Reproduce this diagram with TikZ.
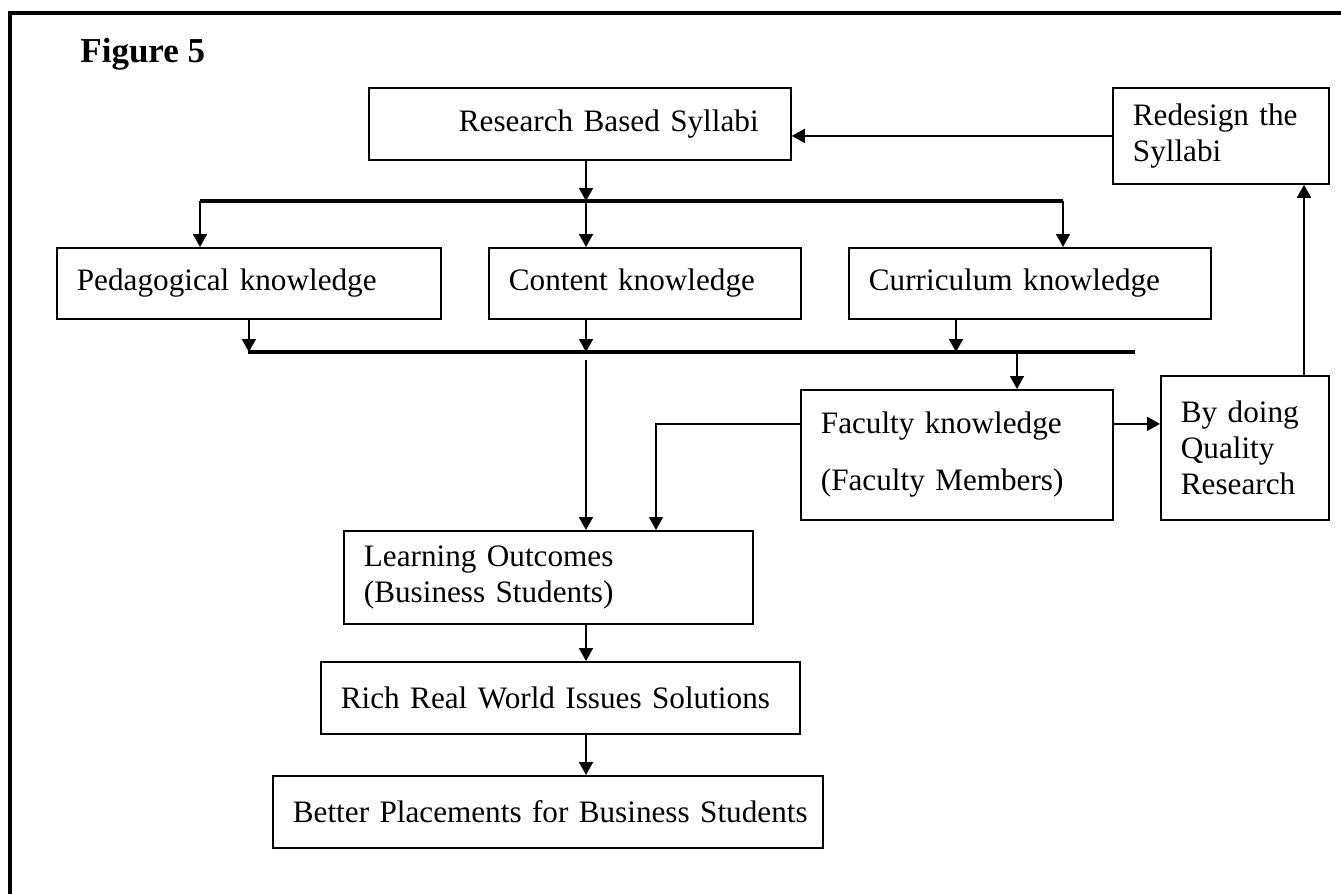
\documentclass[tikz,border=0pt]{standalone}
\usepackage{fontspec}
\setmainfont{Liberation Serif}
\usetikzlibrary{arrows.meta}

\begin{document}
\begin{tikzpicture}[x=0.5pt,y=-0.5pt]
\tikzset{boite/.style={draw, line width=0.9pt, anchor=north west, align=left, inner xsep=10pt, inner ysep=0pt, font=\fontsize{15.6}{18}\selectfont}}
\tikzset{fleche/.style={line width=0.9pt, -{Triangle[length=6.5pt, width=7pt]}}}
\tikzset{barre/.style={line width=1.7pt}}
\useasboundingbox (0,0) rectangle (1341,894);
\draw[line width=2pt] (10,894) -- (10,13) -- (1341,13);
\node[anchor=base west, inner sep=0pt, font=\fontsize{17.5}{20}\bfseries\selectfont] (T) at (80,62) {Figure 5};
\node[boite, text width=191pt, minimum height=36pt] (RS) at (368,87) {\mbox{\hspace*{35pt}Research Based Syllabi}};
\node[boite, text width=88pt, minimum height=48pt] (RD) at (1112,87) {\mbox{Redesign the}\\Syllabi};
\node[boite, text width=172pt, minimum height=35.5pt] (PK) at (56,247) {\mbox{Pedagogical knowledge}};
\node[boite, text width=136pt, minimum height=35.5pt] (CK) at (488,247) {\mbox{Content knowledge}};
\node[boite, text width=161pt, minimum height=35.5pt] (CU) at (848,247) {\mbox{Curriculum knowledge}};
\node[boite, text width=136pt, minimum height=65pt] (FK) at (800,389) {\mbox{Faculty knowledge}\\[10.5pt]\mbox{(Faculty Members)}};
\node[boite, text width=64pt, minimum height=72pt] (QR) at (1160,375) {\mbox{By doing}\\Quality\\Research};
\node[boite, text width=184.5pt, minimum height=46.5pt] (LO) at (343,530) {\mbox{Learning Outcomes}\\\mbox{(Business Students)}};
\node[boite, text width=219.5pt, minimum height=36pt] (RW) at (320,661) {\mbox{Rich Real World Issues Solutions}};
\node[boite, text width=255pt, minimum height=36pt] (BP) at (272,775) {\mbox{Better Placements for Business Students}};
\coordinate (H1) at (200,201);
\coordinate (H2) at (1063,201);
\coordinate (B1) at (248,352);
\coordinate (B2) at (1135,352);
\coordinate (M) at (586,352);
\coordinate (C3) at (956,352);
\coordinate (F1) at (1017,352);
\coordinate (L2) at (656,423);
\coordinate (U) at (1304,300);
\draw[barre] (H1) -- (H2);
\draw[barre] (B1) -- (B2);
\draw[fleche] (RS.south -| M) -- (H1 -| M);
\draw[fleche] (H1) -- (H1 |- PK.north);
\draw[fleche] (H1 -| M) -- (CK.north -| M);
\draw[fleche] (H2) -- (H2 |- CU.north);
\draw[fleche] (PK.south) -- (PK.south |- B1);
\draw[fleche] (CK.south -| M) -- (M);
\draw[fleche] (CU.south -| C3) -- (C3);
\draw[fleche] (F1) -- (FK.north -| F1);
\draw[fleche] ([yshift=-4pt]M) -- (LO.north -| M);
\draw[fleche] ([yshift=15.5pt]FK.west) -| (LO.north -| L2);
\draw[fleche] ([yshift=15.5pt]FK.east) -- ([yshift=15.5pt]FK.east -| QR.west);
\draw[fleche] (QR.north -| U) -- (RD.south -| U);
\draw[fleche] (RD.west) -- (RD.west -| RS.east);
\draw[fleche] (LO.south -| M) -- (RW.north -| M);
\draw[fleche] (RW.south -| M) -- (BP.north -| M);
\end{tikzpicture}
\end{document}
